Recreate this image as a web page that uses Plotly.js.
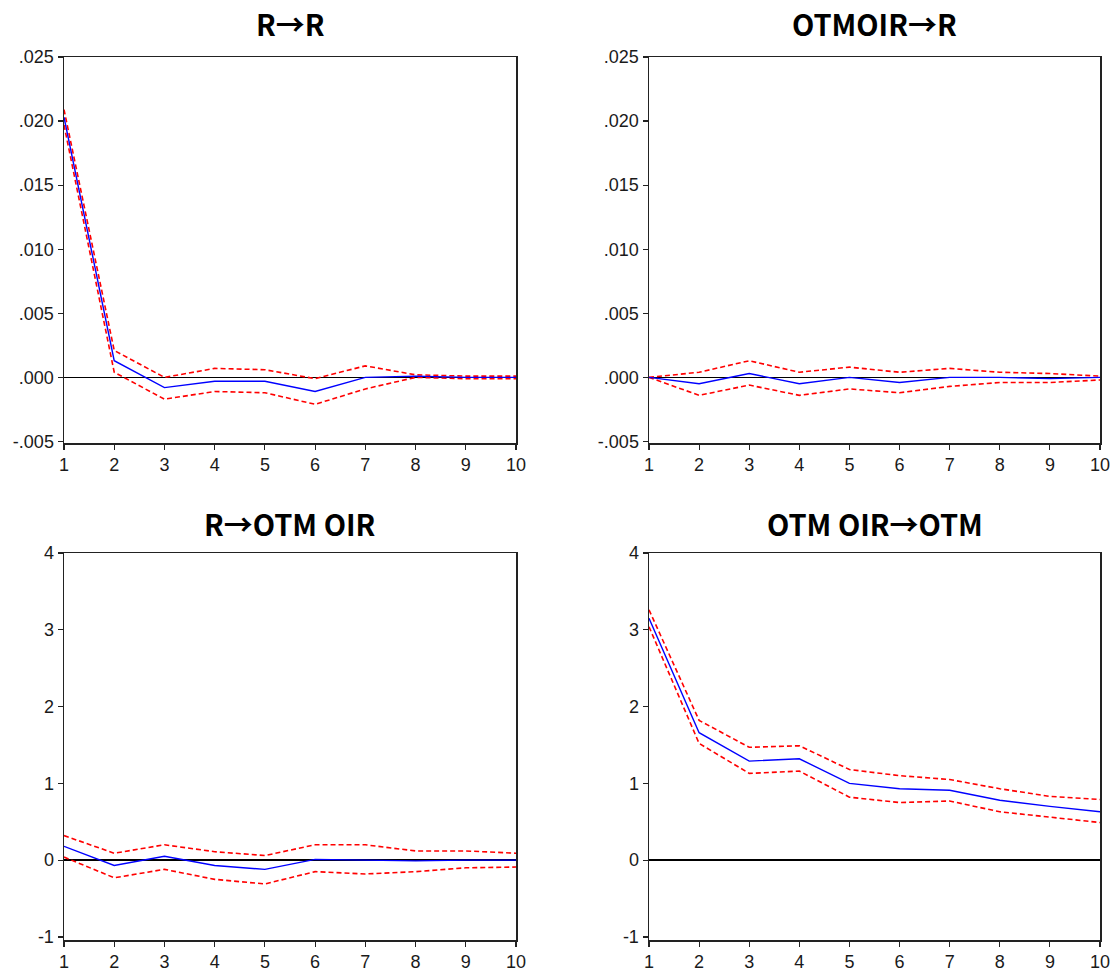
<!DOCTYPE html>
<html>
<head>
<meta charset="utf-8">
<script src="https://cdn.plot.ly/plotly-3.0.1.min.js"></script>
<style>html,body{margin:0;padding:0;background:#fff;}#chart{width:1116px;height:974px;}</style>
</head>
<body>
<div id="chart"></div>
<script>
// Periods
const periods = [1,2,3,4,5,6,7,8,9,10];

// Panel titles
const titles = ["R\u2192R", "OTMOIR\u2192R", "R\u2192OTM OIR", "OTM OIR\u2192OTM"];

// Panel 1: R -> R
const rr_resp  = [0.0203, 0.0013, -0.0008, -0.0003, -0.0003, -0.0011, 0.0000, 0.0001, 0.0000, 0.0000];
const rr_upper = [0.0209, 0.0021, 0.0000, 0.0007, 0.0006, -0.0001, 0.0009, 0.0002, 0.0001, 0.0001];
const rr_lower = [0.0197, 0.0004, -0.0017, -0.0011, -0.0012, -0.0021, -0.0009, 0.0000, -0.0001, -0.0001];

// Panel 2: OTMOIR -> R
const or_resp  = [0.0000, -0.0005, 0.0003, -0.0005, 0.0000, -0.0004, 0.0000, 0.0000, -0.0001, 0.0000];
const or_upper = [0.0000, 0.0004, 0.0013, 0.0004, 0.0008, 0.0004, 0.0007, 0.0004, 0.0003, 0.0001];
const or_lower = [0.0000, -0.0014, -0.0006, -0.0014, -0.0009, -0.0012, -0.0007, -0.0004, -0.0004, -0.0002];

// Panel 3: R -> OTM OIR
const ro_resp  = [0.18, -0.07, 0.05, -0.07, -0.12, 0.01, 0.00, -0.01, 0.00, 0.00];
const ro_upper = [0.32, 0.09, 0.20, 0.11, 0.06, 0.20, 0.20, 0.12, 0.12, 0.09];
const ro_lower = [0.04, -0.23, -0.12, -0.25, -0.31, -0.15, -0.18, -0.15, -0.10, -0.09];

// Panel 4: OTM OIR -> OTM
const oo_resp  = [3.15, 1.66, 1.29, 1.32, 1.00, 0.93, 0.91, 0.78, 0.70, 0.63];
const oo_upper = [3.26, 1.82, 1.47, 1.49, 1.18, 1.10, 1.05, 0.93, 0.83, 0.79];
const oo_lower = [3.04, 1.52, 1.13, 1.16, 0.82, 0.75, 0.77, 0.63, 0.56, 0.49];

// Tick labels
const xTickVals = [1,2,3,4,5,6,7,8,9,10];
const xTickText = ["1","2","3","4","5","6","7","8","9","10"];
const yTopVals = [-0.005, 0, 0.005, 0.010, 0.015, 0.020, 0.025];
const yTopText = ["-.005", ".000", ".005", ".010", ".015", ".020", ".025"];
const yBotVals = [-1, 0, 1, 2, 3, 4];
const yBotText = ["-1", "0", "1", "2", "3", "4"];

const panels = [
  {resp: rr_resp, up: rr_upper, lo: rr_lower},
  {resp: or_resp, up: or_upper, lo: or_lower},
  {resp: ro_resp, up: ro_upper, lo: ro_lower},
  {resp: oo_resp, up: oo_upper, lo: oo_lower}
];

const traces = [];
panels.forEach((p, i) => {
  const xa = i === 0 ? 'x' : 'x' + (i + 1);
  const ya = i === 0 ? 'y' : 'y' + (i + 1);
  traces.push({x: periods, y: p.up, xaxis: xa, yaxis: ya, mode: 'lines',
    line: {color: '#ff0000', width: 1.6, dash: '5px,3px'}, hoverinfo: 'skip'});
  traces.push({x: periods, y: p.lo, xaxis: xa, yaxis: ya, mode: 'lines',
    line: {color: '#ff0000', width: 1.6, dash: '5px,3px'}, hoverinfo: 'skip'});
  traces.push({x: periods, y: p.resp, xaxis: xa, yaxis: ya, mode: 'lines',
    line: {color: '#0000ff', width: 1.4}, hoverinfo: 'skip'});
});

const W = 1116, H = 974;
const colDom = [[64 / W, 516 / W], [649 / W, 1100 / W]];
const rowDom = [[1 - 443 / H, 1 - 57 / H], [1 - 940 / H, 1 - 553 / H]];

const tickFont = {family: 'Liberation Sans Narrow, Liberation Sans, Arial, sans-serif', size: 18, color: '#1a1a1a'};

function xaxis(col, anchor) {
  return {domain: colDom[col], anchor: anchor, range: [1, 10], tickmode: 'array',
    tickvals: xTickVals, ticktext: xTickText, ticks: 'outside', ticklen: 5, tickwidth: 1.2,
    tickcolor: '#222', showline: true, linecolor: '#222', linewidth: 1.5, mirror: true,
    showgrid: false, zeroline: false, tickfont: tickFont, fixedrange: true};
}
function yaxis(row, anchor, range, vals, text) {
  return {domain: rowDom[row], anchor: anchor, range: range, tickmode: 'array',
    tickvals: vals, ticktext: text, ticks: 'outside', ticklen: 5, tickwidth: 1.2,
    tickcolor: '#222', showline: true, linecolor: '#222', linewidth: 1.5, mirror: true,
    showgrid: false, zeroline: true, zerolinecolor: '#000', zerolinewidth: 1.4,
    tickfont: tickFont, fixedrange: true};
}

const topRange = [-0.00512, 0.025];
const botRange = [-1.04, 4];

const titleFont = {family: 'Noto Sans CJK KR, Noto Sans, sans-serif', size: 29, color: '#000', weight: 'bold'};
const annotations = titles.map((t, i) => {
  const col = i % 2, row = Math.floor(i / 2);
  const cx = (colDom[col][0] + colDom[col][1]) / 2;
  const cy = row === 0 ? 1 - 23 / H : 1 - 523 / H;
  return {text: '<b>' + t + '</b>', x: cx, y: cy, xref: 'paper', yref: 'paper',
    xanchor: 'center', yanchor: 'middle', showarrow: false, font: titleFont};
});

const layout = {
  width: W, height: H, margin: {l: 0, r: 0, t: 0, b: 0},
  paper_bgcolor: '#fff', plot_bgcolor: '#fff', showlegend: false,
  xaxis: xaxis(0, 'y'), yaxis: yaxis(0, 'x', topRange, yTopVals, yTopText),
  xaxis2: xaxis(1, 'y2'), yaxis2: yaxis(0, 'x2', topRange, yTopVals, yTopText),
  xaxis3: xaxis(0, 'y3'), yaxis3: yaxis(1, 'x3', botRange, yBotVals, yBotText),
  xaxis4: xaxis(1, 'y4'), yaxis4: yaxis(1, 'x4', botRange, yBotVals, yBotText),
  annotations: annotations
};

Plotly.newPlot('chart', traces, layout, {displayModeBar: false, staticPlot: true});
</script>
</body>
</html>
